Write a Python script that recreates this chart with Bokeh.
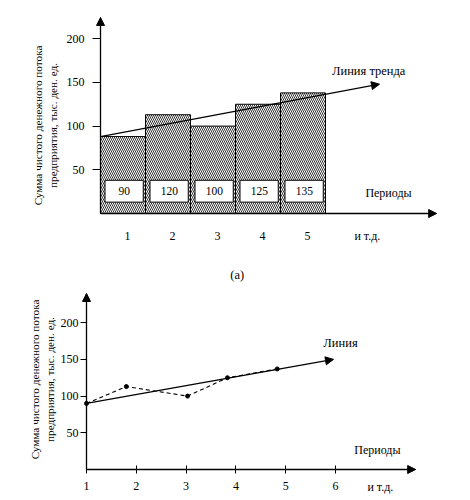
from bokeh.plotting import figure
from bokeh.layouts import column
from bokeh.models import Arrow, NormalHead, FixedTicker, Range1d
from bokeh.embed import file_html
from bokeh.resources import INLINE
from bokeh.core.properties import value

FONT = "Liberation Serif, DejaVu Serif, serif"

# ---------- panel (a): bars + trend ----------
periods = [1, 2, 3, 4, 5]
bar_heights = [88, 113, 100, 125, 138]
bar_labels = ["90", "120", "100", "125", "135"]
y_ticks = [50, 100, 150, 200]
trend_a_x = [0.0, 6.2]
trend_a_y = [88, 148]

# ---------- panel (b): points + trend ----------
points_x = [1.0, 1.8, 3.03, 3.83, 4.83]
points_y = [90, 113, 100, 125, 137]
trend_b_x = [1.0, 5.96]
trend_b_y = [90, 150]
x_ticks_b = [1, 2, 3, 4, 5, 6]

y_label = "Сумма чистого денежного потока\nпредприятия, тыс. ден. ед."

W = 470
H1, H2 = 282, 218


def make_fig(h, x0_px, x_scale, x_origin, y0_px, y_scale):
    # x0_px / y0_px: pixel position of the data origin inside the canvas
    xr = Range1d(x_origin - x0_px / x_scale, x_origin + (W - x0_px) / x_scale)
    yr = Range1d(-(h - y0_px) / y_scale, y0_px / y_scale)
    p = figure(width=W, height=h, x_range=xr, y_range=yr,
               output_backend="svg", toolbar_location=None,
               min_border=0, min_border_left=0, min_border_right=0,
               min_border_top=0, min_border_bottom=0)
    p.grid.visible = False
    p.outline_line_color = None
    p.background_fill_color = "white"
    p.border_fill_color = "white"
    p.xaxis.fixed_location = 0
    p.yaxis.fixed_location = x_origin
    for ax in (p.xaxis[0], p.yaxis[0]):
        ax.axis_line_color = None
        ax.major_tick_line_color = "black"
        ax.major_tick_line_width = 1
        ax.minor_tick_line_color = None
        ax.major_label_text_font = FONT
        ax.major_label_text_font_size = "12px"
        ax.major_label_text_color = "black"
    p.yaxis.axis_label = y_label
    p.yaxis.axis_label_text_font = FONT
    p.yaxis.axis_label_text_font_size = "11.2px"
    p.yaxis.axis_label_text_font_style = "normal"
    p.yaxis.axis_label_text_color = "black"
    p.yaxis.ticker = FixedTicker(ticks=y_ticks)
    return p


def head():
    return NormalHead(size=8, fill_color="black", line_color="black")


def txt(p, x, y, s, size="12px"):
    p.text(x=[x], y=[y], text=[s], text_font=value(FONT), text_font_size=size,
           text_align="center", text_baseline="middle", text_color="black")


# ===== top figure =====
p1 = make_fig(H1, x0_px=100, x_scale=45, x_origin=0, y0_px=213, y_scale=0.874)
p1.yaxis.major_tick_out = 8
p1.yaxis.major_tick_in = 0
p1.yaxis.major_label_standoff = 8
p1.yaxis.axis_label_standoff = 5
p1.yaxis.bounds = (0, 201.4)

tick_pos_a = [p - 0.4 for p in periods] + [5.93]
p1.xaxis.ticker = FixedTicker(ticks=tick_pos_a)
overrides = {p - 0.4: str(p) for p in periods}
overrides[5.93] = "и т.д."
p1.xaxis.major_label_overrides = overrides
p1.xaxis.major_tick_out = 0
p1.xaxis.major_tick_in = 0
p1.xaxis.major_label_standoff = 15

p1.quad(left=[p - 1 for p in periods], right=periods, bottom=0, top=bar_heights,
        fill_color="white", line_color="black", line_width=1,
        hatch_pattern="\\", hatch_color="black", hatch_scale=4, hatch_weight=0.8)
p1.quad(left=[p - 0.9 for p in periods], right=[p - 0.05 for p in periods],
        bottom=13, top=38, fill_color="white", line_color="black", line_width=1)
p1.text(x=[p - 0.47 for p in periods], y=[25.5] * 5, text=bar_labels,
        text_font=value(FONT), text_font_size="11.5px", text_align="center",
        text_baseline="middle", text_color="black")

p1.add_layout(Arrow(end=head(), x_start=0, y_start=0, x_end=0, y_end=224.3, line_width=1.3))
p1.add_layout(Arrow(end=head(), x_start=0, y_start=0, x_end=7.47, y_end=0, line_width=1.3))
p1.add_layout(Arrow(end=head(), x_start=trend_a_x[0], y_start=trend_a_y[0],
                    x_end=trend_a_x[1], y_end=trend_a_y[1], line_width=1.2))

txt(p1, 5.96, 163, "Линия тренда", "12.5px")
txt(p1, 6.4, 23, "Периоды")
txt(p1, 3.04, -69.8, "(a)", "12.5px")

# ===== bottom figure =====
p2 = make_fig(H2, x0_px=86, x_scale=49.8, x_origin=1, y0_px=187, y_scale=0.734)
p2.yaxis.major_tick_out = 6
p2.yaxis.major_tick_in = 0
p2.yaxis.major_label_standoff = 2
p2.yaxis.axis_label_standoff = 2
p2.yaxis.bounds = (0, 245.2)
p2.xaxis.ticker = FixedTicker(ticks=x_ticks_b)
p2.xaxis.major_tick_out = 4
p2.xaxis.major_tick_in = 4
p2.xaxis.major_label_standoff = 8

p2.line(points_x, points_y, line_color="black", line_width=1.1, line_dash="4 3")
p2.scatter(points_x, points_y, size=4, color="black")
p2.add_layout(Arrow(end=head(), x_start=1, y_start=0, x_end=1, y_end=239.8, line_width=1.3))
p2.add_layout(Arrow(end=head(), x_start=1, y_start=0, x_end=7.61, y_end=0, line_width=1.3))
p2.add_layout(Arrow(end=head(), x_start=trend_b_x[0], y_start=trend_b_y[0],
                    x_end=trend_b_x[1], y_end=trend_b_y[1], line_width=1.2))
txt(p2, 6.1, 173, "Линия", "12.5px")
txt(p2, 6.84, 26, "Периоды")
txt(p2, 6.9, -24.5, "и т.д.")

layout = column(p1, p2, spacing=0)
open("out.html", "w").write(file_html(layout, INLINE))
